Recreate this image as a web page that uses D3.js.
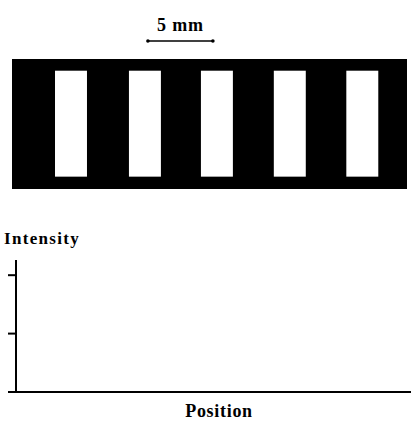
<!DOCTYPE html>
<html><head><meta charset="utf-8">
<script src="https://cdn.jsdelivr.net/npm/d3@7"></script>
<style>html,body{margin:0;padding:0;background:#fff;}svg{display:block;}</style>
</head><body><svg id="c" width="411" height="421"></svg>
<script>
// Grating geometry (mm)
const gratingExtent = [0, 30.4];
const slitCenters = [4.54, 10.23, 15.77, 21.38, 26.96];
const slitWidth = 2.46;
const slitTop = 0.9, slitBottom = 9.05; // mm from top of mask
const maskHeight = 10.0;
const scaleBar = [10.46, 15.46];
const scaleLabel = "5 mm";
// Intensity profile (all zero in reference)
const profilePos = [0, 5, 10, 15, 20, 25, 30.4];
const profileVal = [0, 0, 0, 0, 0, 0, 0];
const intensityTicks = [1, 2];

const svg = d3.select("#c");
const x = d3.scaleLinear().domain(gratingExtent).range([12, 407]);
const ym = d3.scaleLinear().domain([0, maskHeight]).range([59, 189]);
const font = "'Liberation Serif', 'Times New Roman', serif";

// scale bar
svg.append("text").attr("x", (x(scaleBar[0]) + x(scaleBar[1])) / 2).attr("y", 31)
  .attr("text-anchor", "middle").attr("font-family", font).attr("font-weight", "bold")
  .attr("font-size", 18).attr("letter-spacing", 0.8).text(scaleLabel);
svg.append("line").attr("x1", x(scaleBar[0])).attr("x2", x(scaleBar[1]))
  .attr("y1", 41).attr("y2", 41).attr("stroke", "#000").attr("stroke-width", 1.5);
svg.selectAll("circle.sb").data(scaleBar).enter().append("circle")
  .attr("cx", d => x(d)).attr("cy", 41).attr("r", 1.8).attr("fill", "#000");

// mask
svg.append("rect").attr("x", x(gratingExtent[0])).attr("y", ym(0))
  .attr("width", x(gratingExtent[1]) - x(gratingExtent[0])).attr("height", ym(maskHeight) - ym(0))
  .attr("fill", "#000");
svg.selectAll("rect.slit").data(slitCenters).enter().append("rect")
  .attr("x", d => x(d - slitWidth / 2)).attr("y", ym(slitTop))
  .attr("width", x(slitWidth) - x(0)).attr("height", ym(slitBottom) - ym(slitTop))
  .attr("fill", "#fff");

// intensity plot
const y = d3.scaleLinear().domain([0, 2.26]).range([392, 260]);
const g = svg.append("g");
g.append("line").attr("x1", 16).attr("x2", 16).attr("y1", y(2.26)).attr("y2", y(0))
  .attr("stroke", "#000").attr("stroke-width", 2);
g.selectAll("line.tk").data(intensityTicks).enter().append("line")
  .attr("x1", 8).attr("x2", 16).attr("y1", d => y(d)).attr("y2", d => y(d))
  .attr("stroke", "#000").attr("stroke-width", 2);
const xp = d3.scaleLinear().domain(gratingExtent).range([16, 411]);
g.append("line").attr("x1", 8).attr("x2", 411).attr("y1", y(0)).attr("y2", y(0))
  .attr("stroke", "#000").attr("stroke-width", 2);
g.append("path").datum(profilePos.map((p, i) => [p, profileVal[i]]))
  .attr("d", d3.line().x(d => xp(d[0])).y(d => y(d[1])))
  .attr("fill", "none").attr("stroke", "#000").attr("stroke-width", 2);

svg.append("text").attr("x", 4).attr("y", 244).attr("font-family", font).attr("font-weight", "bold")
  .attr("font-size", 17).attr("letter-spacing", 1.3).text("Intensity");
svg.append("text").attr("x", 219).attr("y", 417).attr("text-anchor", "middle").attr("font-family", font)
  .attr("font-weight", "bold").attr("font-size", 18).attr("letter-spacing", 0.7).text("Position");
</script></body></html>
